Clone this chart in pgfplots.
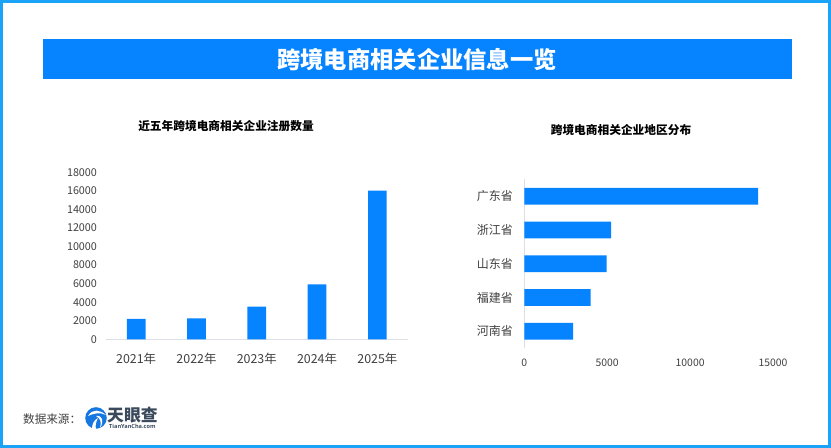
\documentclass[border=0pt]{standalone}
\usepackage{pgfplots}
\pgfplotsset{compat=1.18}
\usepackage{fontspec}
\setmainfont{Noto Sans CJK SC}
\newfontfamily\latin{Open Sans}
\definecolor{barblue}{HTML}{0683FF}
\definecolor{frameblue}{HTML}{1AA3F7}
\definecolor{ticktext}{HTML}{404040}
\definecolor{axisgrey}{HTML}{DCDFE6}
\definecolor{logoblue}{HTML}{1677E0}
\definecolor{logotext}{HTML}{3A4A5C}
\pgfplotstableread{
x y
0 2190
1 2260
2 3520
3 5930
4 16020
}\yeartable
\pgfplotstableread{
x y
14100 0
5230 1
4970 2
4000 3
2940 4
}\provtable
\begin{document}
\begin{tikzpicture}[x=1bp,y=1bp]
\path[use as bounding box] (0,0) rectangle (831,448);
% frame
\draw[frameblue,line width=3bp] (1.2,1.5) rectangle (829.8,446.5);
% banner
\fill[barblue] (42.5,369) rectangle (791.5,408.5);
\node[text=white,font=\fontsize{23.3bp}{26bp}\selectfont\bfseries] at (417,388.5) {跨境电商相关企业信息一览};
% chart titles
\node[text=black,font=\fontsize{11.7bp}{14bp}\selectfont\bfseries] at (226,322) {近五年跨境电商相关企业注册数量};
\node[text=black,font=\fontsize{11.7bp}{14bp}\selectfont\bfseries] at (621,318) {跨境电商相关企业地区分布};
% left chart
\begin{axis}[
  at={(106bp,108.7bp)},anchor=south west,
  scale only axis,width=301.5bp,height=167bp,
  xmin=-0.5,xmax=4.5,ymin=0,ymax=18000,
  axis x line*=bottom,axis y line*=left,
  separate axis lines,
  x axis line style={draw=axisgrey,line width=0.9bp,-},
  y axis line style={draw=none,-},
  major tick style={draw=none},
  xtick={0,1,2,3,4},
  xticklabels={2021年,2022年,2023年,2024年,2025年},
  ytick={0,2000,4000,6000,8000,10000,12000,14000,16000,18000},
  scaled y ticks=false,
  /pgf/number format/assume math mode=true,
  /pgf/number format/set thousands separator={},
  xticklabel style={text=ticktext,font=\fontsize{12.4bp}{14bp}\selectfont,yshift=-10bp},
  yticklabel style={text=ticktext,font=\fontsize{10.8bp}{12bp}\selectfont,xshift=-5.5bp},
  clip=false,
]
\addplot[ybar,bar width=18.7bp,bar shift=0pt,fill=barblue,draw=none] table[x=x,y=y]{\yeartable};
\end{axis}
% right chart
\begin{axis}[
  at={(524.3bp,99.8bp)},anchor=south west,
  scale only axis,width=248.7bp,height=168.8bp,
  xmin=0,xmax=15000,ymin=-0.5,ymax=4.5,y dir=reverse,
  axis x line*=bottom,axis y line*=left,
  separate axis lines,
  y axis line style={draw=axisgrey,line width=0.9bp,-},
  x axis line style={draw=none,-},
  major tick style={draw=none},
  ytick={0,1,2,3,4},
  yticklabels={广东省,浙江省,山东省,福建省,河南省},
  xtick={0,5000,10000,15000},
  scaled x ticks=false,
  /pgf/number format/assume math mode=true,
  /pgf/number format/set thousands separator={},
  yticklabel style={text=ticktext,font=\fontsize{12bp}{14bp}\selectfont,xshift=-8bp},
  xticklabel style={text=ticktext,font=\fontsize{10.4bp}{12bp}\selectfont,yshift=-7bp},
  clip=false,
]
\addplot[xbar,bar width=16.7bp,bar shift=0pt,fill=barblue,draw=none] table[x=x,y=y]{\provtable};
\end{axis}
% footer
\node[anchor=west,text=ticktext,font=\fontsize{11.6bp}{13bp}\selectfont,inner sep=0pt] at (23,29) {数据来源：};
% logo
\fill[logoblue] (96,30) circle (10.8);
\fill[white] (88,32) .. controls (93,40) and (100,38) .. (106,33) .. controls (100,36) and (95,35) .. (88,32) -- cycle;
\fill[white] (96,32) .. controls (103,33) and (104,26) .. (100,20) .. controls (102,26) and (100,30) .. (96,32) -- cycle;
\fill[white] (92,19) .. controls (92,24) and (94,28) .. (98,30) .. controls (96,26) and (95,22) .. (96,19) -- cycle;
\node[anchor=west,text=logotext,font=\fontsize{16.8bp}{18bp}\selectfont\bfseries,inner sep=0pt] at (107,33) {天眼查};
\node[anchor=west,text=logotext,font=\latin\fontsize{5.6bp}{6bp}\selectfont\bfseries,inner sep=0pt] at (109,21.5) {TianYanCha.com};
\end{tikzpicture}
\end{document}
